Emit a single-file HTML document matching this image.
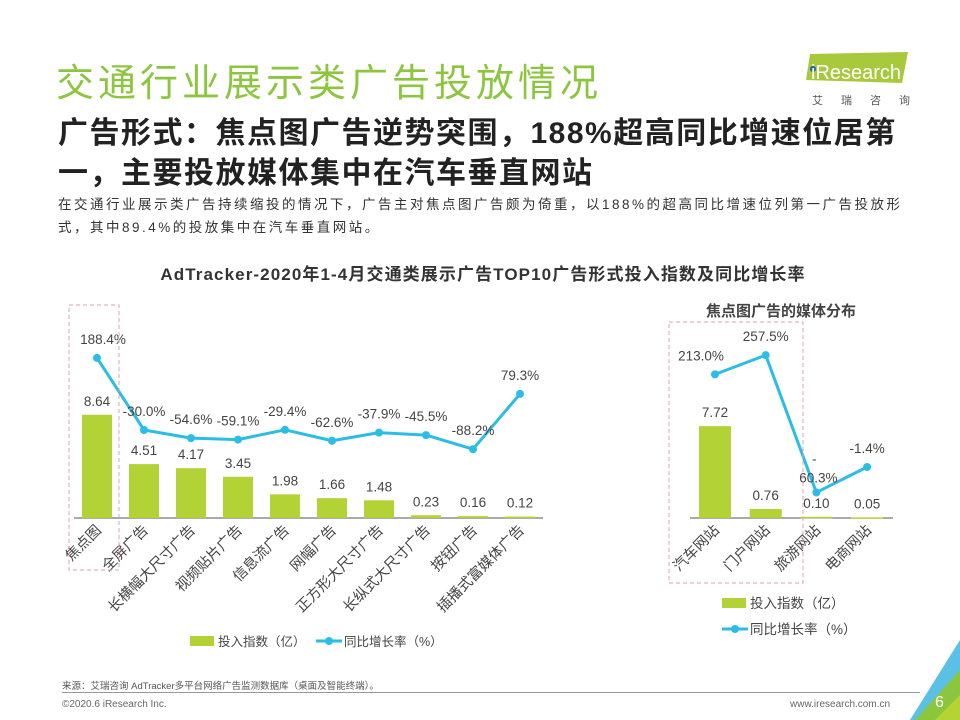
<!DOCTYPE html>
<html><head><meta charset="utf-8">
<style>
body{margin:0;width:960px;height:720px;background:#fff;overflow:hidden;font-family:"Liberation Sans","Noto Sans CJK SC",sans-serif;position:relative}
.a{position:absolute;white-space:nowrap}
</style></head><body>
<div class="a" style="left:56px;top:52px;font-size:38px;letter-spacing:4px;color:#8cc63f;">交通行业展示类广告投放情况</div>
<div class="a" style="left:796px;top:52px;width:110px;height:36px;">
<svg width="120" height="36"><polygon points="14,2 112,0 106,31 10,28" fill="#a8c93c"/><circle cx="17" cy="17" r="3" fill="#1f5fa8"/><text x="15" y="27" font-size="20" fill="#fff" font-family="Liberation Sans">iResearch</text></svg></div>
<div class="a" style="left:812px;top:92px;font-size:11px;color:#555;letter-spacing:18px;">艾瑞咨询</div>
<div class="a" style="left:58px;top:114px;font-size:30px;letter-spacing:1.5px;font-weight:bold;color:#222;line-height:40px;">广告形式：焦点图广告逆势突围，188%超高同比增速位居第<br>一，主要投放媒体集中在汽车垂直网站</div>
<div class="a" style="left:58px;top:193px;font-size:13.5px;letter-spacing:2.5px;color:#333;line-height:23px;">在交通行业展示类广告持续缩投的情况下，广告主对焦点图广告颇为倚重，以188%的超高同比增速位列第一广告投放形<br>式，其中89.4%的投放集中在汽车垂直网站。</div>
<div class="a" style="left:0;width:966px;text-align:center;top:260px;font-size:17px;letter-spacing:1.1px;font-weight:bold;color:#333;">AdTracker-2020年1-4月交通类展示广告TOP10广告形式投入指数及同比增长率</div>
<div class="a" style="left:706px;top:300px;font-size:15px;font-weight:bold;color:#444;">焦点图广告的媒体分布</div>
<svg id="chart" class="a" style="left:0;top:0" width="960" height="720"></svg>
<div class="a" style="left:62px;top:678px;font-size:9.5px;color:#555;">来源：艾瑞咨询 AdTracker多平台网络广告监测数据库（桌面及智能终端）。</div>
<div class="a" style="left:62px;top:692px;width:858px;height:1px;background:#999;"></div>
<div class="a" style="left:62px;top:699px;font-size:10px;color:#666;">©2020.6 iResearch Inc.</div>
<div class="a" style="left:790px;top:699px;font-size:10px;color:#666;">www.iresearch.com.cn</div>
<svg class="a" style="left:890px;top:640px" width="70" height="80"><polygon points="70,0 70,40 40,80 20,80" fill="#5bc0e6"/><polygon points="70,30 70,80 25,80" fill="#8cc63f"/><polygon points="70,55 70,80 45,80" fill="#b5d334"/></svg>
<div class="a" style="left:935px;top:694px;font-size:16px;color:#fff;">6</div>
<script>
const cats=["焦点图","全屏广告","长横幅大尺寸广告","视频贴片广告","信息流广告","网幅广告","正方形大尺寸广告","长纵式大尺寸广告","按钮广告","插播式富媒体广告"];
const vals=[8.64,4.51,4.17,3.45,1.98,1.66,1.48,0.23,0.16,0.12];
const rates=[188.4,-30.0,-54.6,-59.1,-29.4,-62.6,-37.9,-45.5,-88.2,79.3];
const cats2=["汽车网站","门户网站","旅游网站","电商网站"];
const vals2=[7.72,0.76,0.10,0.05];
const rates2=[213.0,257.5,-60.3,-1.4];
const NS="http://www.w3.org/2000/svg",svg=document.getElementById('chart');
function mk(t,a,txt){const e=document.createElementNS(NS,t);for(const k in a)e.setAttribute(k,a[k]);if(txt!=null)e.textContent=txt;svg.appendChild(e);return e;}
const G="#b2d235",B="#2bbde6",TC="#444",FS=13.5;
function draw(cs,vs,rs,x0,step,bw,base,yb,yr,axL,axR,lo,pre,split){
  mk('line',{x1:axL,x2:axR,y1:base,y2:base,stroke:'#555','stroke-width':1});
  const pts=[];
  cs.forEach((c,i)=>{const cx=x0+i*step,h=vs[i]*yb;
    const r=mk('rect',{x:cx-bw/2,y:base-h,width:bw,height:Math.max(h,1.5),fill:G});
    
    const vt=mk('text',{x:cx,y:base-h-9,'text-anchor':'middle','font-size':FS,fill:TC},vs[i].toFixed(2));
    
    const lt=mk('text',{x:cx+5,y:base+13,'text-anchor':'end','font-size':14.5,fill:TC,transform:`rotate(-45 ${cx+5} ${base+13})`},c);
    
    pts.push([cx,yr(rs[i])]);});
  const pl=mk('polyline',{points:pts.map(p=>p.join(',')).join(' '),fill:'none',stroke:B,'stroke-width':3,'stroke-linejoin':'round'});
  
  pts.forEach((p,i)=>{const c=mk('circle',{cx:p[0],cy:p[1],r:4,fill:B});
    
    const s=rs[i].toFixed(1)+'%';
    if(split&&split[i]&&rs[i]<0){
      const t1=mk('text',{x:p[0]-2,y:p[1]-29,'text-anchor':'middle','font-size':FS,fill:TC},'-');
      
      const t2=mk('text',{x:p[0]+2,y:p[1]-10,'text-anchor':'middle','font-size':FS,fill:TC},s.slice(1));
      
    } else {
    const t=mk('text',{x:p[0]+(lo[i]||0),y:p[1]-14,'text-anchor':'middle','font-size':FS,fill:TC},s);
    }});
}
draw(cats,vals,rates,97,47,30,518,11.95,v=>430-(v+30)*0.33,74,543,[6,0,0,0,0,0,0,0,0,0],'');
draw(cats2,vals2,rates2,715,50.7,32,518,11.9,v=>467-(v+1.4)*0.432,690,893,[-14,0,0,0],'media-',[0,0,1,0]);
[[69,305,50,265],[669,322,134,261]].forEach(b=>{const r=mk('rect',{x:b[0],y:b[1],width:b[2],height:b[3],fill:'none',stroke:'#e0a0a8','stroke-dasharray':'4,3'});
});
function leg(x,y,bar,label,fs){
  if(bar){const r=mk('rect',{x:x,y:y-5,width:24,height:10,fill:G});}
  else{const l=mk('line',{x1:x,x2:x+26,y1:y,y2:y,stroke:B,'stroke-width':3});
  const c=mk('circle',{cx:x+13,cy:y,r:4,fill:B});}
  const t=mk('text',{x:x+28,y:y+5,'font-size':fs,fill:TC},label);
}
leg(190,641,true,'投入指数（亿）',12.5);leg(316,641,false,'同比增长率（%）',12.5);
leg(722,603,true,'投入指数（亿）',13.5);leg(722,629,false,'同比增长率（%）',13.5);
</script>
</body></html>
